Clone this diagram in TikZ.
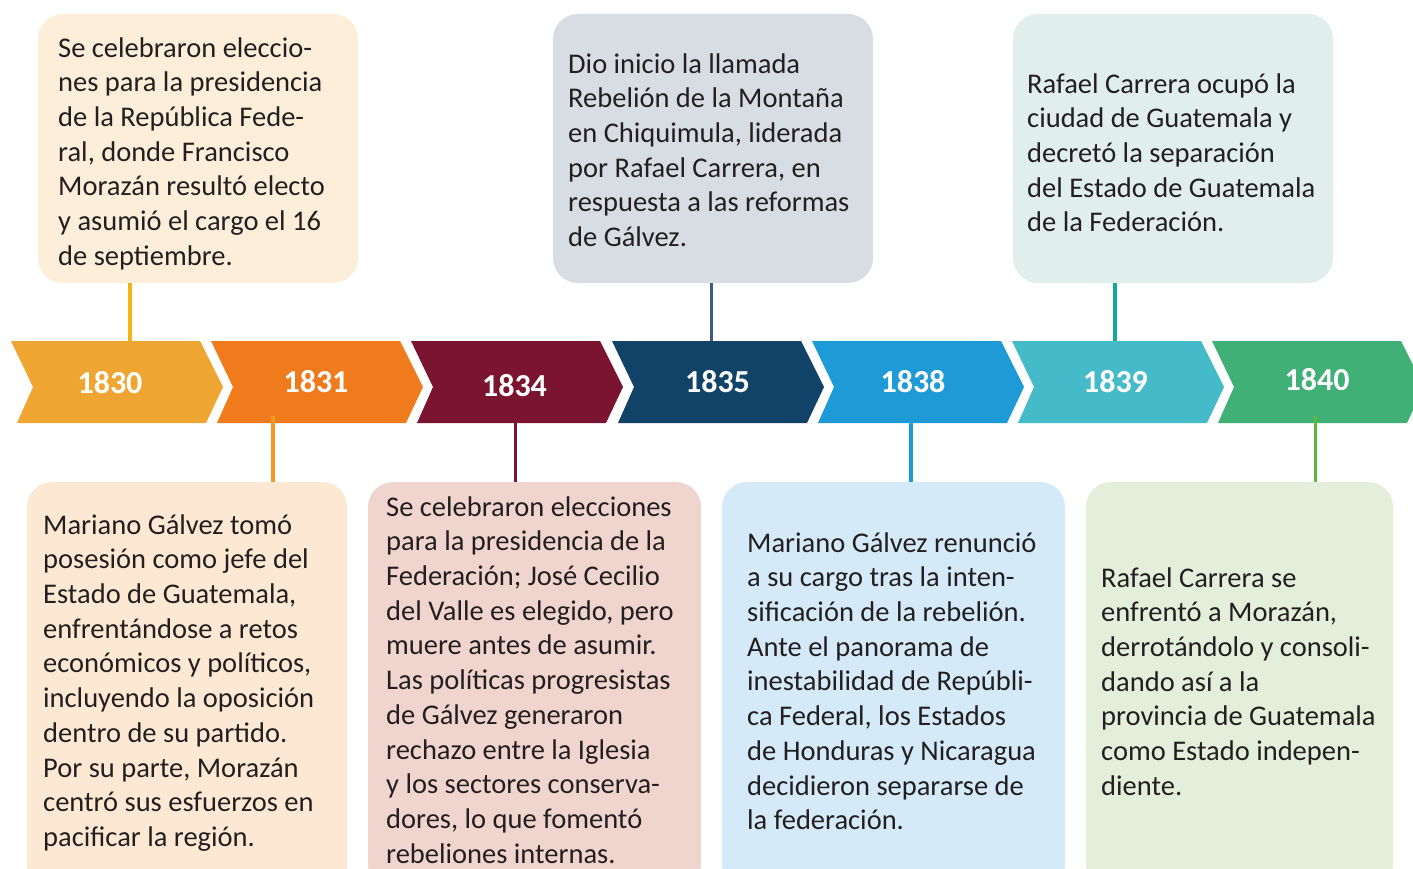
\documentclass[tikz,border=0pt]{standalone}
\usepackage{fontspec}
\setmainfont{Carlito}
\usetikzlibrary{calc}

\definecolor{c1830}{HTML}{EFA531}
\definecolor{c1831}{HTML}{EF7B1D}
\definecolor{c1834}{HTML}{7A1430}
\definecolor{c1835}{HTML}{104367}
\definecolor{c1838}{HTML}{1E9BD7}
\definecolor{c1839}{HTML}{45BBCA}
\definecolor{c1840}{HTML}{40B077}
\definecolor{f1830}{HTML}{FDEEDA}
\definecolor{f1831}{HTML}{FDE9D3}
\definecolor{f1834}{HTML}{F0D4CE}
\definecolor{f1835}{HTML}{D8DDE3}
\definecolor{f1838}{HTML}{D4EAF9}
\definecolor{f1839}{HTML}{E0EFEC}
\definecolor{f1840}{HTML}{E3EFDA}
\definecolor{l1830}{HTML}{F2B416}
\definecolor{l1831}{HTML}{F39A1E}
\definecolor{l1835}{HTML}{3F5D7E}
\definecolor{l1839}{HTML}{14A99B}
\definecolor{l1840}{HTML}{5DB93C}
\definecolor{inkgray}{HTML}{231F20}

\tikzset{evbox/.style={rounded corners=25pt,inner sep=0pt,draw=none}}
\tikzset{evtext/.style={anchor=north west,inner sep=0pt,align=left,text=inkgray,
    font=\fontsize{28.5}{34.7}\selectfont}}
\tikzset{yeartext/.style={inner sep=0pt,text=white,font=\fontsize{32}{38}\selectfont\bfseries}}
\tikzset{stem/.style={line width=3.5pt}}

\begin{document}
\begin{tikzpicture}[x=1pt,y=-1pt]
    \clip (0,0) rectangle (1413,869);
    % boxes above the band
    \node[evbox,fill=f1830,minimum width=320pt,minimum height=269pt] (box1830) at (198,148.5) {};
    \node[evbox,fill=f1835,minimum width=320pt,minimum height=269pt] (box1835) at (713,148.5) {};
    \node[evbox,fill=f1839,minimum width=320pt,minimum height=269pt] (box1839) at (1173,148.5) {};
    % boxes below the band
    \node[evbox,fill=f1831,minimum width=320pt,minimum height=408pt] (box1831) at (187,686) {};
    \node[evbox,fill=f1834,minimum width=333pt,minimum height=408pt] (box1834) at (534.5,686) {};
    \node[evbox,fill=f1838,minimum width=343pt,minimum height=408pt] (box1838) at (893.5,686) {};
    \node[evbox,fill=f1840,minimum width=307pt,minimum height=408pt] (box1840) at (1239.5,686) {};
    % stems up
    \coordinate (s1830) at (130,341);
    \coordinate (s1835) at (711.5,341);
    \coordinate (s1839) at (1115,341);
    \draw[stem,l1830] (box1830.south -| s1830) -- (s1830);
    \draw[stem,l1835] (box1835.south -| s1835) -- (s1835);
    \draw[stem,l1839] (box1839.south -| s1839) -- (s1839);
    % the band
    \foreach \yr/\xl/\xc/\yc in {1830/11/110/382.5,1831/211/316/382,1834/411/514.5/386,
        1835/612/717.5/382,1838/812/913/382,1839/1012/1115.5/382,1840/1212/1317/379.5} {
      \fill[c\yr] (\xl,341) -- ++(189,0) -- ++(23,46) -- ++(-17,36) -- ++(-189,0)
        -- ++(16,-36) -- cycle;
      \node[yeartext] (y\yr) at (\xc,\yc) {\yr};
    }
    % stems down
    \coordinate (s1831) at (273,416);
    \coordinate (s1834) at (515.7,416);
    \coordinate (s1838) at (911,416);
    \coordinate (s1840) at (1315.7,416);
    \draw[stem,l1831] (s1831) -- (s1831 |- box1831.north);
    \draw[stem,c1834] (s1834) -- (s1834 |- box1834.north);
    \draw[stem,c1838] (s1838) -- (s1838 |- box1838.north);
    \draw[stem,l1840] (s1840) -- (s1840 |- box1840.north);
    % texts
    \node[evtext] (txt1830) at (58,32.7) {\strut Se celebraron eleccio-\\nes para la presidencia\\
      de la República Fede-\\ral, donde Francisco\\Morazán resultó electo\\
      y asumió el cargo el 16\\de septiembre.};
    \node[evtext] (txt1835) at (568,48.7) {\strut Dio inicio la llamada\\Rebelión de la Montaña\\
      en Chiquimula, liderada\\por Rafael Carrera, en\\respuesta a las reformas\\de Gálvez.};
    \node[evtext] (txt1839) at (1027,68.7) {\strut Rafael Carrera ocupó la\\ciudad de Guatemala y\\
      decretó la separación\\del Estado de Guatemala\\de la Federación.};
    \node[evtext] (txt1831) at (43,509.7) {\strut Mariano Gálvez tomó\\posesión como jefe del\\
      Estado de Guatemala,\\enfrentándose a retos\\económicos y políticos,\\
      incluyendo la oposición\\dentro de su partido.\\Por su parte, Morazán\\
      centró sus esfuerzos en\\pacificar la región.};
    \node[evtext] (txt1834) at (386,491.7) {\strut Se celebraron elecciones\\para la presidencia de la\\
      Federación; José Cecilio\\del Valle es elegido, pero\\muere antes de asumir.\\
      Las políticas progresistas\\de Gálvez generaron\\rechazo entre la Iglesia\\
      y los sectores conserva-\\dores, lo que fomentó\\rebeliones internas.};
    \node[evtext] (txt1838) at (747,527.7) {\strut Mariano Gálvez renunció\\a su cargo tras la inten-\\
      sificación de la rebelión.\\Ante el panorama de\\inestabilidad de Repúbli-\\
      ca Federal, los Estados\\de Honduras y Nicaragua\\decidieron separarse de\\la federación.};
    \node[evtext] (txt1840) at (1101,562.7) {\strut Rafael Carrera se\\enfrentó a Morazán,\\
      derrotándolo y consoli-\\dando así a la\\provincia de Guatemala\\
      como Estado indepen-\\diente.};
\end{tikzpicture}
\end{document}
